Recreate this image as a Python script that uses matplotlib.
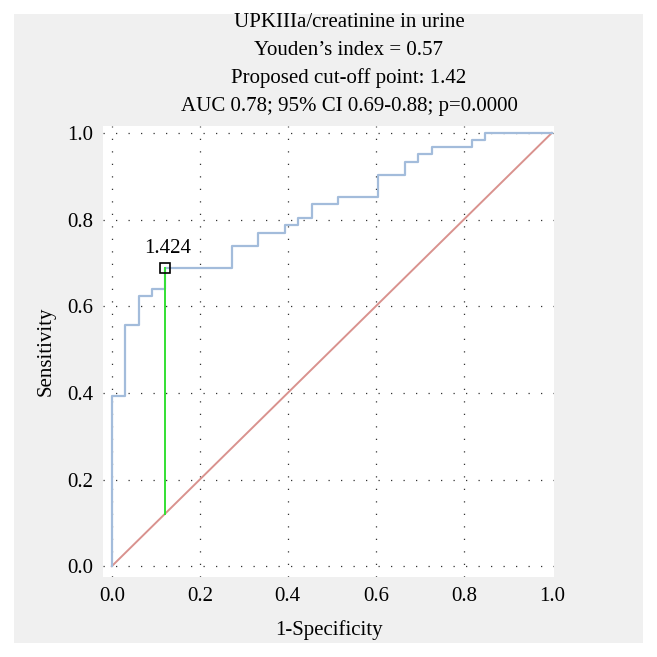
import matplotlib.pyplot as plt
from matplotlib.patches import Rectangle

plt.rcParams['font.family'] = ['Liberation Serif', 'DejaVu Serif']

# ROC curve corners (1-specificity, sensitivity), steps-post
fpr = [0.0, 0.0, 0.030, 0.061, 0.091, 0.121, 0.273, 0.333, 0.394, 0.424,
       0.455, 0.515, 0.606, 0.667, 0.697, 0.727, 0.818, 0.848, 1.0]
tpr = [0.0, 0.393, 0.557, 0.623, 0.639, 0.689, 0.738, 0.770, 0.787, 0.803,
       0.836, 0.852, 0.902, 0.934, 0.951, 0.967, 0.984, 1.0, 1.0]

cut_x = 0.121
cut_y = 0.689
cut_label = '1.424'

title_lines = ['UPKIIIa/creatinine in urine',
               'Youden\u2019s index = 0.57',
               'Proposed cut-off point: 1.42',
               'AUC 0.78; 95% CI 0.69-0.88; p=0.0000']

ticks = [0.0, 0.2, 0.4, 0.6, 0.8, 1.0]

fig = plt.figure(figsize=(6.57, 6.57), dpi=100, facecolor='white')
fig.patches.append(Rectangle((14/657, 14/657), 629/657, 629/657,
                             transform=fig.transFigure, facecolor='#f0f0f0',
                             edgecolor='none', zorder=-10))

ax = fig.add_axes([103/657, 80/657, 451/657, 451/657])
ax.set_facecolor('white')
for s in ax.spines.values():
    s.set_visible(False)

# dotted grid
for t in ticks[:-1]:
    ax.axvline(t, color='#333333', lw=0.9, ls=(0, (1, 9)), zorder=1)
for t in ticks:
    ax.axhline(t, color='#333333', lw=0.9, ls=(0, (1, 9)), zorder=1)

ax.plot([0, 1], [0, 1], color='#d9928e', lw=1.4, zorder=2)
ax.plot(fpr, tpr, drawstyle='steps-post', color='#a3bcdb', lw=1.6, zorder=3)
ax.plot([cut_x, cut_x], [cut_x, cut_y], color='#33e033', lw=1.4, zorder=4)
ax.plot(cut_x, cut_y, marker='s', ms=7, mfc='none', mec='black', mew=1.2, zorder=5)
ax.text(cut_x + 0.006, cut_y + 0.022, cut_label, ha='center', va='bottom', fontsize=15)

ax.set_xlim(-0.02, 1.005)
ax.set_ylim(-0.025, 1.016)
ax.set_xticks(ticks)
ax.set_yticks(ticks)
ax.set_xticklabels([f'{t:.1f}' for t in ticks])
ax.set_yticklabels([f'{t:.1f}' for t in ticks])
ax.tick_params(length=0, labelsize=15, pad=7)
ax.set_xlabel('1-Specificity', fontsize=15, labelpad=10)
ax.set_ylabel('Sensitivity', fontsize=15, labelpad=8)

for i, line in enumerate(title_lines):
    fig.text(349/657, 1 - (27 + 28*i)/657, line, ha='center', va='baseline', fontsize=15)

fig.savefig('out.png', dpi=100, facecolor='white')
